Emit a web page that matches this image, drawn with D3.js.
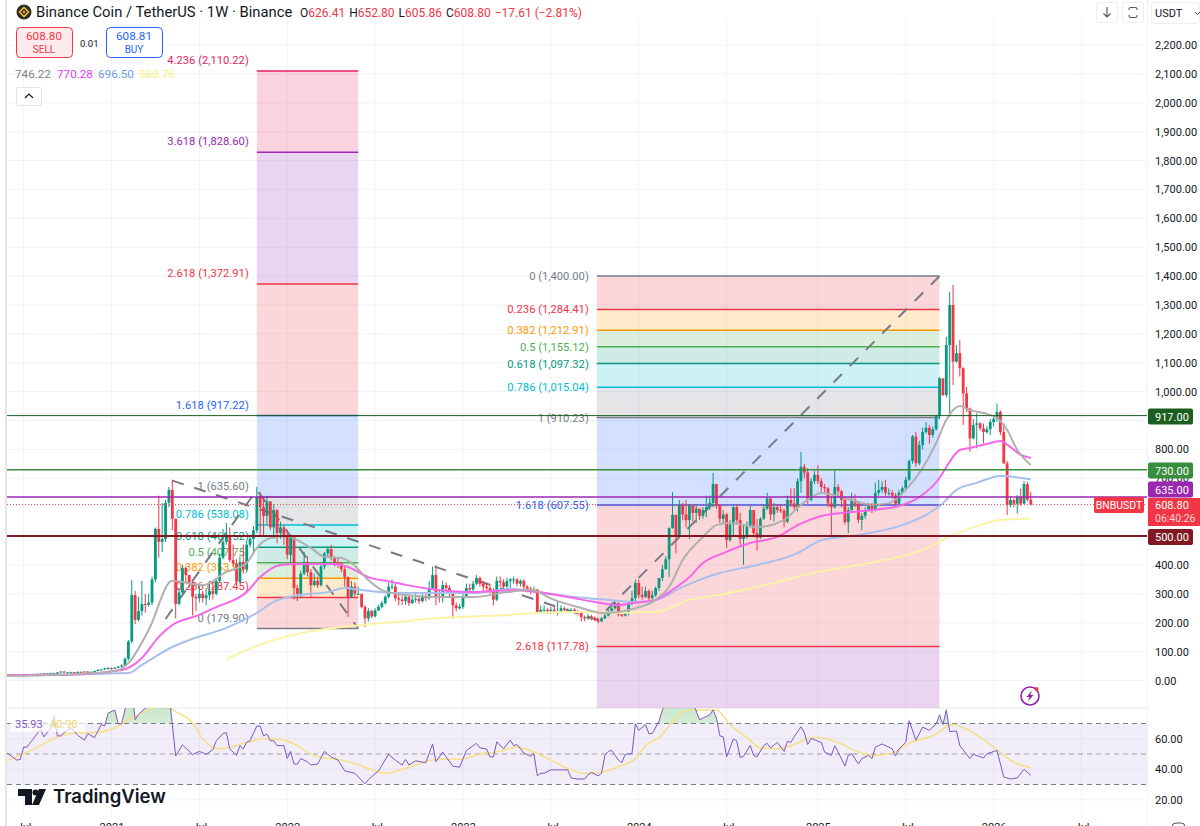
<!DOCTYPE html>
<html>
<head>
<meta charset="utf-8">
<script src="https://cdn.jsdelivr.net/npm/d3@7"></script>
<style>
	body { margin: 0; background: #fff; overflow: hidden; }
	text { font-family: Roboto, sans-serif; }
</style>
</head>
<body>
<svg id="chart" width="1200" height="826"></svg>
<script>
// weekly bars, week 0 is mid 2020; every bar opens on the previous close
const closes = [
	17,17,16,18,16,17,19,18,21,23, 22,25,21,26,22,28,31,28,28,29,
	28,30,29,31,28,30,33,37,38,42, 43,41,44,48,52,
	75,135,296,210,240,265,262,270,350,525,
	480,490,615,660,560,265,305,390,365,340,
	290,285,300,285,295,310,300,345,425,480,
	500,417,405,342,410,385,470,490,520,635,
	600,570,620,530,590,510,530,500,435,500,
	320,300,370,410,375,330,345,330,395,440,
	455,425,410,405,385,358,290,325,300,300,
	255,215,240,222,243,255,268,290,325,325,
	285,280,275,290,268,280,283,275,290,285,
	320,365,290,285,330,320,300,260,250,255,
	290,320,315,335,355,335,325,320,310,280,
	345,340,325,345,350,350,335,345,325,318,
	310,315,238,245,245,240,245,240,240,250,
	245,245,245,240,238,220,215,222,217,210,
	205,215,225,240,250,268,228,225,235,265,
	285,338,296,290,310,285,295,320,355,385,
	420,528,573,497,608,575,555,605,580,595,
	570,590,600,615,680,605,560,575,486,540,
	600,555,490,500,535,590,510,495,560,595,
	630,575,600,590,588,550,625,613,600,690,
	740,720,625,690,712,690,670,665,613,600,
	670,655,625,548,590,625,612,556,570,590,
	610,590,650,660,670,650,650,640,612,650,
	665,695,760,845,752,815,860,875,850,870,
	915,1046,988,1161,1300,1104,1133,1081,994,942,
	838,885,890,873,860,870,895,905,930,860,
	752,608,625,612,635,612,680,626.41,608.8
];
const highs = [
	18,18,18,19,18,18,20,20,22,24, 24,26,26,27,27,29,32,32,30,30,
	30,31,31,32,32,31,34,38,40,44, 46,45,46,50,56,
	80,140,348,310,290,345,300,300,360,530,
	640,615,625,670,695,560,320,400,395,365,
	345,300,330,310,320,345,340,350,440,525,
	545,530,470,420,430,470,480,505,535,670,
	650,635,640,620,610,595,550,540,520,505,
	500,330,380,445,430,385,370,360,400,445,
	465,470,430,425,410,395,360,345,340,325,
	300,260,250,245,250,262,275,295,340,350,
	335,300,295,305,295,292,300,295,300,300,
	345,395,400,310,345,340,330,310,270,265,
	300,335,335,345,365,360,345,340,335,320,
	360,360,350,355,355,360,355,350,350,330,
	325,325,315,260,260,250,255,260,275,260,
	255,250,250,250,245,240,225,230,228,222,
	215,220,235,245,270,275,270,240,240,275,
	310,350,350,325,325,315,310,325,355,400,
	430,530,652,575,625,615,625,610,610,610,
	595,600,640,640,719,680,610,590,580,555,
	605,610,580,540,550,605,580,560,565,610,
	650,635,615,610,610,595,640,665,665,700,
	792,750,735,700,725,745,700,680,670,640,
	729,680,660,630,600,650,645,620,580,600,
	615,615,685,695,690,695,665,660,650,660,
	672,705,765,850,860,830,875,895,885,880,
	920,1050,1045,1190,1346,1369,1161,1179,1085,1017,
	945,905,925,895,890,880,905,915,959,935,
	890,760,636,630,642,665,690,688,652.8
];
const lows = [
	15,15,15,15,15,15,16,17,18,20, 20,21,20,21,21,22,27,26,26,27,
	26,27,28,28,26,27,29,32,36,37, 38,38,40,43,46,
	52,70,130,195,205,225,235,255,260,340,
	425,445,480,600,520,215,260,300,340,320,
	225,240,270,270,260,280,280,295,340,420,
	470,410,395,330,335,370,375,460,440,510,
	500,500,540,520,490,475,490,470,420,410,
	280,275,285,365,360,290,325,320,325,385,
	425,415,395,390,375,325,220,285,290,295,
	250,185,205,215,218,240,250,262,285,315,
	275,260,262,262,258,265,270,265,270,275,
	280,315,260,270,270,305,290,215,240,245,
	248,285,305,310,330,325,310,310,300,260,
	275,325,315,315,320,335,325,325,315,305,
	300,305,232,230,235,230,230,232,225,235,
	238,235,238,235,225,205,205,210,208,205,
	198,202,212,222,238,245,222,220,222,225,
	260,275,285,280,285,275,280,290,310,345,
	385,358,525,440,497,555,530,490,550,545,
	555,560,565,590,600,595,545,540,459,480,
	500,545,470,400,490,530,500,450,490,555,
	590,555,550,580,580,530,545,600,590,585,
	650,700,610,620,680,680,650,650,600,498,
	595,640,600,540,510,585,600,545,521,560,
	585,580,585,640,650,640,640,630,605,605,
	645,660,690,750,740,745,800,855,820,840,
	865,905,985,980,913,1023,1100,1052,885,930,
	792,835,804,865,821,855,850,880,895,850,
	750,573,600,600,578,605,610,620,605.86
];

// moving averages as [week, price]
const grayMa = [[0,16],[16,20],[29,29],[33,36],[36,60],[42,175],[49,345],[58,330],[65,376],[71,407],[74,459],[78,493],[83,500],[86,486],[90,459],[94,428],[99,424],[102,407],[107,348],[111,313],[118,296],[128,289],[138,289],[148,306],[155,313],[162,279],[170,251],[176,234],[181,237],[185,247],[192,279],[196,324],[200,417],[206,497],[210,538],[214,545],[222,531],[230,556],[235,608],[241,649],[247,635],[252,618],[256,608],[261,614],[266,660],[271,736],[275,822],[278,902],[282,950],[285,936],[289,926],[293,909],[296,867],[299,798],[303,746.22]];
const magentaMa = [[0,19],[16,19],[34,36],[40,78],[45,151],[49,192],[57,227],[62,254],[71,306],[75,358],[81,400],[87,403],[97,403],[101,393],[107,358],[114,341],[118,331],[128,313],[138,306],[150,313],[157,306],[166,289],[174,272],[181,261],[185,268],[192,279],[196,306],[202,358],[206,407],[212,441],[220,476],[228,497],[234,538],[240,566],[247,580],[256,590],[264,604],[270,635],[276,701],[278,739],[282,798],[285,805],[290,819],[294,829],[297,808],[300,781],[303,770.28]];
const blueMa = [[0,19],[36,26],[40,54],[49,116],[54,140],[65,182],[70,209],[74,234],[79,272],[87,296],[95,306],[100,320],[105,313],[116,303],[123,303],[138,303],[150,317],[157,306],[168,289],[178,279],[186,272],[192,279],[200,324],[211,372],[222,400],[234,441],[241,486],[252,504],[265,538],[272,573],[277,614],[281,660],[287,684],[294,708],[303,696.5]];
const yellowMa = [[65,74],[77,133],[87,164],[97,182],[105,192],[116,203],[128,216],[148,227],[157,234],[168,237],[175,237],[182,234],[188,237],[192,237],[202,279],[212,299],[227,338],[240,376],[252,400],[266,434],[273,462],[278,493],[280,504],[288,538],[294,556],[303,560.76]];

const rsiValues = [[0,50.8],[3,46],[4,46.4],[5,54.5],[6,54.5],[10,66.2],[11,61.3],[13,66.8],[14,74.7],[15,61.9],[16,61.9],[17,64],[19,67.2],[21,62.3],[23,59.1],[24,63.4],[26,60.8],[28,69.3],[29,68.3],[30,76.8],[32,78.9],[33,69.8],[34,69.8],[35,79],[36,88],[37,92],[38,72.5],[39,76],[40,78],[41,80],[42,81],[43,84],[44,92],[45,88],[46,89],[47,88],[48,90],[49,69.3],[50,48.7],[52,56],[55,49.6],[57,51.7],[59,49.8],[61,52.8],[62,58.7],[64,63.4],[65,64],[66,53.4],[68,49.1],[69,55.5],[70,53.4],[71,57.6],[72,58.7],[74,68.3],[75,68.3],[76,61.9],[77,63],[78,58.7],[79,58.7],[80,55.5],[82,55.5],[83,47],[84,51.7],[85,43.4],[86,43.4],[87,47],[89,44.9],[90,42.8],[92,43.4],[94,51.7],[96,48.1],[98,46],[100,38.9],[103,37.4],[106,30.4],[107,33.2],[110,38.9],[113,49.8],[115,46],[117,42.8],[118,46.4],[119,42.8],[121,45.5],[124,44.3],[126,56.6],[127,44.9],[129,51.3],[130,48.1],[132,42.1],[134,41.3],[136,52.3],[139,57],[140,54],[142,53.2],[143,48.1],[144,48.1],[145,58],[147,53.4],[149,59.1],[150,55.5],[151,56.2],[153,50.6],[155,48.5],[156,50.2],[157,35.7],[158,37.4],[159,37.4],[161,39.6],[162,39.6],[166,39.6],[167,34.3],[169,33.6],[171,33.6],[172,36.4],[173,37.9],[175,35.7],[176,37.4],[177,49.1],[178,51.7],[179,52.3],[181,46],[182,44.3],[183,49.8],[185,50.2],[186,69.8],[187,65.5],[189,69.3],[190,63.4],[191,63.4],[193,71.5],[194,78.9],[195,84],[196,86],[197,88],[199,90],[201,88],[203,84],[205,72.5],[208,75.7],[209,78.9],[210,73.6],[211,61.9],[212,61.3],[213,48.1],[215,59.8],[216,58.7],[217,47.7],[218,48.5],[220,55.5],[221,49.1],[222,48.1],[224,55.5],[225,57],[226,54],[228,57.6],[230,51.7],[231,58.3],[232,57.6],[233,61.3],[235,67.8],[236,64],[237,56.2],[238,60.2],[241,57.6],[242,51.3],[244,49.1],[245,55.5],[246,51.3],[248,42.1],[249,49.1],[250,50.2],[252,43.4],[253,47],[255,49.1],[256,47],[257,54.5],[259,56.6],[262,53.4],[263,48.7],[264,53.4],[266,57.6],[267,71.9],[269,59.1],[271,67.6],[273,65.5],[275,69.8],[276,75.7],[277,69.3],[278,79],[279,64.7],[281,65.1],[282,55.5],[285,47],[286,49.8],[289,47.4],[290,50.2],[293,52.3],[295,34.9],[297,33.6],[299,34.3],[301,40],[303,35.93]];
const rsiMa = [[0,45.5],[4,49.1],[9,54.5],[16,61.9],[21,64],[26,64],[32,67.2],[36,72.5],[40,76.8],[42,78.9],[46,82],[50,77.8],[55,70.4],[58,59.8],[63,53.4],[68,55.5],[73,58.7],[76,60.2],[82,59.1],[85,56.6],[92,48.1],[98,46.4],[103,43.8],[108,39.6],[112,37.4],[118,40.6],[124,44.9],[127,46.6],[134,46.6],[140,49.8],[145,51.3],[151,54.5],[156,51.3],[161,46],[167,39.6],[171,37.4],[175,37.9],[181,41.7],[186,47],[189,55.5],[193,60.8],[196,68.3],[199,76.1],[203,78.9],[210,78.9],[214,69.3],[219,60.8],[223,54],[228,53.4],[232,55.5],[239,60.8],[246,57.6],[252,51.3],[257,49.1],[263,51.3],[267,57],[274,61.9],[280,69.3],[284,66.2],[293,52.8],[297,45.9],[303,40.9]];

// fibonacci tools
const fibLeftWeeks = [74, 104];
const fibLeftLevels = ['0', '0.236', '0.382', '0.5', '0.618', '0.786', '1', '1.618', '2.618', '3.618', '4.236'];
const fibLeftPrices = [179.90, 287.45, 353.98, 407.75, 461.52, 538.08, 635.60, 917.22, 1372.91, 1828.60, 2110.22];
const fibRightWeeks = [174.6, 276];
const fibRightLevels = ['0', '0.236', '0.382', '0.5', '0.618', '0.786', '1', '1.618', '2.618', '3.618'];
const fibRightPrices = [1400.00, 1284.41, 1212.91, 1155.12, 1097.32, 1015.04, 910.23, 607.55, 117.78, -372.00];
const fibColors = ['#787b86', '#f23645', '#ff9800', '#4caf50', '#089981', '#00bcd4', '#787b86', '#2962ff', '#f23645', '#9c27b0', '#e91e63'];

// dashed swing lines as [week, price]
const swingLeft = [[47, 213], [74, 660], [104, 180]];
const swingRight = [[49, 692], [174.6, 210], [276, 1400]];

const gridPrices = d3.range(0, 2300, 100);
// 500, 600 and 900 sit under the axis tags in the picture
const priceTicks = gridPrices.filter(d => ![500, 600, 900].includes(d));
const rsiTicks = [20, 40, 60];
const rsiBands = [30, 50, 70];
const timeTickWeeks = [5, 31, 57, 83, 109, 135, 161, 187, 213, 240, 266, 292, 318];
const timeTickLabels = ['Jul', '2021', 'Jul', '2022', 'Jul', '2023', 'Jul', '2024', 'Jul', '2025', 'Jul', '2026', 'Jul'];

// right side levels with their axis tags
const levelPrices = [917, 730, 635, 500];
const levelColors = ['#1b5e20', '#388e3c', '#9c27b0', '#801922'];
const levelWidths = [1, 1.5, 1.5, 2];
const levelTagY = [416.5, 470.5, 489.5, 537];
const lastPrice = 608.80;

const maLegend = ['746.22', '770.28', '696.50', '560.76'];
const maLegendColors = ['#808080', '#e040fb', '#6b9ae0', '#f7ee7c'];
const maLegendX = [15, 57, 98, 139];

const red = '#f23645';
const green = '#089981';
const fmt = d3.format(',.2f');

const width = 1200;
const height = 826;
const left = 7;
const right = 1147;
const paneBottom = 708;
const svg = d3.select('#chart');

const x = d3.scaleLinear().domain([0, 303]).range([6.7, 1030.8]);
const y = d3.scaleLinear().domain([0, 2200]).range([680.5, 45]);
const rsiY = d3.scaleLinear().domain([30, 70]).range([784.5, 723.5]);

const defs = svg.append('defs');
defs.append('clipPath').attr('id', 'mainClip').append('rect')
	.attr('x', left).attr('y', 0).attr('width', right - left).attr('height', paneBottom);
defs.append('clipPath').attr('id', 'rsiClip').append('rect')
	.attr('x', left).attr('y', paneBottom).attr('width', right - left).attr('height', 110);
defs.append('clipPath').attr('id', 'obClip').append('rect')
	.attr('x', left).attr('y', paneBottom).attr('width', right - left).attr('height', rsiY(70) - paneBottom);
const obGrad = defs.append('linearGradient').attr('id', 'obGrad')
	.attr('x1', 0).attr('x2', 0).attr('y1', 0).attr('y2', 1);
obGrad.append('stop').attr('offset', 0).attr('stop-color', '#4caf50').attr('stop-opacity', 0.35);
obGrad.append('stop').attr('offset', 1).attr('stop-color', '#4caf50').attr('stop-opacity', 0.04);

// page edge
svg.append('rect').attr('x', 5).attr('y', 0).attr('width', 2).attr('height', height).attr('fill', '#e6e6e6');

// grid
const grid = svg.append('g').attr('stroke', '#f0f3fa').attr('stroke-width', 1);
grid.selectAll('.h').data(gridPrices).join('line')
	.attr('x1', left).attr('x2', right).attr('y1', d => y(d)).attr('y2', d => y(d));
grid.selectAll('.r').data(rsiTicks).join('line')
	.attr('x1', left).attr('x2', right).attr('y1', d => rsiY(d)).attr('y2', d => rsiY(d));
grid.selectAll('.v').data(timeTickWeeks).join('line')
	.attr('x1', d => x(d)).attr('x2', d => x(d)).attr('y1', 18).attr('y2', 818);
svg.append('line').attr('x1', right + 0.5).attr('x2', right + 0.5).attr('y1', 0).attr('y2', height).attr('stroke', '#f0f3fa');
svg.append('line').attr('x1', left).attr('x2', right).attr('y1', paneBottom).attr('y2', paneBottom).attr('stroke', '#e8e8ec');

const main = svg.append('g').attr('clip-path', 'url(#mainClip)');

const drawFib = (g, weeks, levels, prices, labelShift) => {
	const x0 = x(weeks[0]);
	const x1 = x(weeks[1]);
	const bands = d3.range(1, levels.length);
	g.selectAll('.band').data(bands).join('rect')
		.attr('x', x0).attr('width', x1 - x0)
		.attr('y', i => Math.min(y(prices[i]), y(prices[i - 1])))
		.attr('height', i => Math.abs(y(prices[i]) - y(prices[i - 1])))
		.attr('fill', i => fibColors[i]).attr('fill-opacity', 0.2);
	g.selectAll('.level').data(levels).join('line')
		.attr('x1', x0).attr('x2', x1)
		.attr('y1', (d, i) => y(prices[i])).attr('y2', (d, i) => y(prices[i]))
		.attr('stroke', (d, i) => fibColors[i]).attr('stroke-width', 1.5);
	g.selectAll('.label').data(levels).join('text')
		.attr('x', x0 - 8).attr('y', (d, i) => y(prices[i]) + labelShift + 4)
		.attr('text-anchor', 'end').attr('font-size', 11.2)
		.attr('fill', (d, i) => fibColors[i])
		.text((d, i) => `${d} (${fmt(prices[i])})`);
};
drawFib(main.append('g'), fibLeftWeeks, fibLeftLevels, fibLeftPrices, -11);
drawFib(main.append('g'), fibRightWeeks, fibRightLevels, fibRightPrices, 0);

// swing lines
const swingLine = d3.line().x(d => x(d[0])).y(d => y(d[1]));
main.selectAll('.swing').data([swingLeft, swingRight]).join('path')
	.attr('d', swingLine).attr('fill', 'none')
	.attr('stroke', '#787b86').attr('stroke-width', 2).attr('stroke-dasharray', '12 11');

// candles
const bars = closes.map((c, i) => ({i, o: i ? closes[i - 1] : c, c, h: highs[i], l: lows[i]}));
const candle = main.append('g');
candle.selectAll('.wick').data(bars).join('line')
	.attr('x1', d => x(d.i)).attr('x2', d => x(d.i))
	.attr('y1', d => y(d.h)).attr('y2', d => y(d.l))
	.attr('stroke', d => d.c >= d.o ? green : red).attr('stroke-width', 1);
candle.selectAll('.body').data(bars).join('rect')
	.attr('x', d => x(d.i) - 1.4).attr('width', 2.8)
	.attr('y', d => y(Math.max(d.o, d.c)))
	.attr('height', d => Math.max(1, Math.abs(y(d.o) - y(d.c))))
	.attr('fill', d => d.c >= d.o ? green : red);

// moving averages
const maLine = d3.line().x(d => x(d[0])).y(d => y(d[1])).curve(d3.curveMonotoneX);
main.selectAll('.ma')
	.data([[yellowMa, '#fbf3a6'], [blueMa, '#a9c0ee'], [magentaMa, '#f766e8'], [grayMa, '#b2b0ae']])
	.join('path')
	.attr('d', d => maLine(d[0])).attr('fill', 'none')
	.attr('stroke', d => d[1]).attr('stroke-width', 2);

// horizontal levels
main.selectAll('.lvl').data(levelPrices).join('line')
	.attr('x1', left).attr('x2', right)
	.attr('y1', d => y(d)).attr('y2', d => y(d))
	.attr('stroke', (d, i) => levelColors[i]).attr('stroke-width', (d, i) => levelWidths[i]);
main.append('line').attr('x1', left).attr('x2', right)
	.attr('y1', y(lastPrice)).attr('y2', y(lastPrice))
	.attr('stroke', red).attr('stroke-width', 1).attr('stroke-dasharray', '1 2');

// lightning badge
const bolt = svg.append('g').attr('transform', 'translate(1030,696)');
bolt.append('circle').attr('r', 9).attr('fill', '#fff').attr('stroke', '#8e24aa').attr('stroke-width', 1.6);
bolt.append('path').attr('d', 'M2,-5.5 L-3.5,1 L-0.5,1 L-2,5.5 L3.5,-1 L0.5,-1 Z').attr('fill', '#8e24aa');
bolt.append('circle').attr('cx', 6.5).attr('cy', -7).attr('r', 2).attr('fill', red);

// rsi pane
const rsiPane = svg.append('g').attr('clip-path', 'url(#rsiClip)');
rsiPane.append('rect').attr('x', left).attr('width', right - left)
	.attr('y', rsiY(70)).attr('height', rsiY(30) - rsiY(70))
	.attr('fill', '#7e57c2').attr('fill-opacity', 0.1);
rsiPane.selectAll('.band').data(rsiBands).join('line')
	.attr('x1', left).attr('x2', right).attr('y1', d => rsiY(d)).attr('y2', d => rsiY(d))
	.attr('stroke', '#787b86').attr('stroke-dasharray', '5 4')
	.attr('stroke-width', d => d === 50 ? 0.7 : 1.2);
rsiPane.append('path').datum(rsiValues)
	.attr('clip-path', 'url(#obClip)')
	.attr('d', d3.area().x(d => x(d[0])).y0(rsiY(70)).y1(d => rsiY(d[1])))
	.attr('fill', 'url(#obGrad)');
rsiPane.append('path').datum(rsiMa)
	.attr('d', d3.line().x(d => x(d[0])).y(d => rsiY(d[1])).curve(d3.curveMonotoneX)).attr('fill', 'none')
	.attr('stroke', '#f5e08c').attr('stroke-width', 1.6);
rsiPane.append('path').datum(rsiValues)
	.attr('d', d3.line().x(d => x(d[0])).y(d => rsiY(d[1]))).attr('fill', 'none')
	.attr('stroke', '#7e57c2').attr('stroke-width', 1);

// axes
const priceAxis = svg.append('g').attr('transform', 'translate(1155,0)')
	.call(d3.axisRight(y).tickValues(priceTicks).tickSize(0).tickPadding(0).tickFormat(fmt));
const rsiAxis = svg.append('g').attr('transform', 'translate(1155,0)')
	.call(d3.axisRight(rsiY).tickValues(rsiTicks).tickSize(0).tickPadding(0).tickFormat(fmt));
const timeAxis = svg.append('g').attr('transform', 'translate(0,823)')
	.call(d3.axisBottom(x).tickValues(timeTickWeeks).tickSize(0).tickPadding(0)
		.tickFormat((d, i) => timeTickLabels[i]));
[priceAxis, rsiAxis, timeAxis].forEach(a => {
	a.select('.domain').remove();
	a.selectAll('text').attr('font-size', 11).attr('fill', '#131722').style('font-family', 'Roboto, sans-serif');
});

// level tags on the axis
const tags = svg.append('g');
tags.selectAll('rect').data(levelPrices).join('rect')
	.attr('x', 1148).attr('width', 45).attr('height', 16).attr('rx', 2)
	.attr('y', (d, i) => levelTagY[i] - 8)
	.attr('fill', (d, i) => levelColors[i]);
tags.selectAll('text').data(levelPrices).join('text')
	.attr('x', 1155).attr('y', (d, i) => levelTagY[i] + 4)
	.attr('font-size', 11).attr('fill', '#fff')
	.text(d => fmt(d));
const tagRed = svg.append('g');
tagRed.append('rect').attr('x', 1148).attr('y', 498).attr('width', 52).attr('height', 28).attr('fill', red);
tagRed.append('text').attr('x', 1155).attr('y', 509).attr('font-size', 11).attr('fill', '#fff').text(fmt(lastPrice));
tagRed.append('text').attr('x', 1155).attr('y', 522).attr('font-size', 10.5).attr('fill', '#fbd5d9').text('06:40:26');
tagRed.append('rect').attr('x', 1094).attr('y', 497).attr('width', 50).attr('height', 16).attr('rx', 2).attr('fill', red);
tagRed.append('text').attr('x', 1119).attr('y', 509).attr('font-size', 10.5).attr('fill', '#fff')
	.attr('text-anchor', 'middle').text('BNBUSDT');

// header
const coin = svg.append('g').attr('transform', 'translate(24,12)');
coin.append('circle').attr('r', 7.5).attr('fill', '#2b2b2b');
coin.append('path').attr('d', 'M0,-4.5 L4.5,0 L0,4.5 L-4.5,0 Z').attr('fill', 'none').attr('stroke', '#f3ba2f').attr('stroke-width', 1.6);
coin.append('circle').attr('r', 1.2).attr('fill', '#f3ba2f');
svg.append('text').attr('x', 36).attr('y', 17).attr('font-size', 14.8).attr('fill', '#131722')
	.text('Binance Coin / TetherUS · 1W · Binance');

const ohlcNames = ['O', 'H', 'L', 'C'];
const ohlcValues = ['626.41', '652.80', '605.86', '608.80'];
const ohlc = svg.append('text').attr('x', 300).attr('y', 16.5).attr('font-size', 12);
ohlcNames.forEach((n, i) => {
	ohlc.append('tspan').attr('fill', '#131722').attr('dx', i ? 4 : 0).text(n);
	ohlc.append('tspan').attr('fill', red).text(ohlcValues[i]);
});
ohlc.append('tspan').attr('fill', red).attr('dx', 4).text('−17.61 (−2.81%)');

const button = (bx, stroke, fill, value, label) => {
	const g = svg.append('g');
	g.append('rect').attr('x', bx + 0.5).attr('y', 27.5).attr('width', 56).attr('height', 30).attr('rx', 4)
		.attr('fill', fill).attr('stroke', stroke);
	g.append('text').attr('x', bx + 28).attr('y', 40).attr('text-anchor', 'middle').attr('font-size', 11.7)
		.attr('fill', stroke).text(value);
	g.append('text').attr('x', bx + 28).attr('y', 53).attr('text-anchor', 'middle').attr('font-size', 10)
		.attr('fill', stroke).text(label);
};
button(16, red, '#fdeaec', '608.80', 'SELL');
button(106, '#2962ff', '#fff', '608.81', 'BUY');
svg.append('text').attr('x', 80).attr('y', 47).attr('font-size', 9.5).attr('fill', '#131722').text('0.01');

svg.selectAll('.maLegend').data(maLegend).join('text')
	.attr('x', (d, i) => maLegendX[i]).attr('y', 78).attr('font-size', 11.7)
	.attr('fill', (d, i) => maLegendColors[i]).text(d => d);

svg.append('rect').attr('x', 16.5).attr('y', 87.5).attr('width', 25).attr('height', 18).attr('rx', 2)
	.attr('fill', '#fff').attr('stroke', '#e0e3eb');
svg.append('path').attr('d', 'M25,98 L29,94 L33,98').attr('fill', 'none').attr('stroke', '#131722').attr('stroke-width', 1.2);

// rsi legend
svg.append('rect').attr('x', 10).attr('y', 716).attr('width', 75).attr('height', 16).attr('fill', '#fff').attr('fill-opacity', 0.7);
svg.append('text').attr('x', 15).attr('y', 728).attr('font-size', 11).attr('fill', '#7e57c2').text('35.93');
svg.append('text').attr('x', 50).attr('y', 728).attr('font-size', 11).attr('fill', '#f5d76e').text('40.90');

// tradingview mark
const mark = svg.append('g').attr('fill', '#131722');
mark.append('path').attr('d', 'M18,789 H32 V805 H25 V796 H18 Z');
mark.append('circle').attr('cx', 35.5).attr('cy', 792.5).attr('r', 3);
mark.append('path').attr('d', 'M39,789 H46 L39,805 H32 Z');
svg.append('text').attr('x', 53).attr('y', 803).style('font-family', 'Inter, sans-serif')
	.attr('font-size', 18.5).attr('font-weight', 600).attr('fill', '#131722').text('TradingView');

// top right controls
const tool = svg.append('g').attr('fill', 'none');
tool.append('rect').attr('x', 1096.5).attr('y', 2.5).attr('width', 21).attr('height', 20).attr('rx', 3).attr('stroke', '#eceef2');
tool.append('rect').attr('x', 1122.5).attr('y', 2.5).attr('width', 21).attr('height', 20).attr('rx', 3).attr('stroke', '#eceef2');
tool.append('rect').attr('x', 1151.5).attr('y', 2.5).attr('width', 48).attr('height', 21).attr('rx', 3).attr('stroke', '#eceef2');
tool.append('path').attr('d', 'M1107,7 V17 M1103.5,13.5 L1107,17 L1110.5,13.5').attr('stroke', '#50535e').attr('stroke-width', 1.1);
tool.append('path').attr('d', 'M1129,10 V9 Q1129,7.5 1131,7.5 H1135 Q1137,7.5 1137,9 V10 M1129,15 V16 Q1129,17.5 1131,17.5 H1135 Q1137,17.5 1137,16 V15')
	.attr('stroke', '#50535e').attr('stroke-width', 1.1);
tool.append('path').attr('d', 'M1195,12 L1197.5,14.5 L1200,12').attr('stroke', '#50535e');
svg.append('text').attr('x', 1155).attr('y', 17).attr('font-size', 11).attr('fill', '#131722').text('USDT');

// settings corner, only its top shows
svg.append('rect').attr('x', 1172).attr('y', 823).attr('width', 13).attr('height', 10).attr('rx', 4)
	.attr('fill', 'none').attr('stroke', '#50535e');
</script>
</body>
</html>
